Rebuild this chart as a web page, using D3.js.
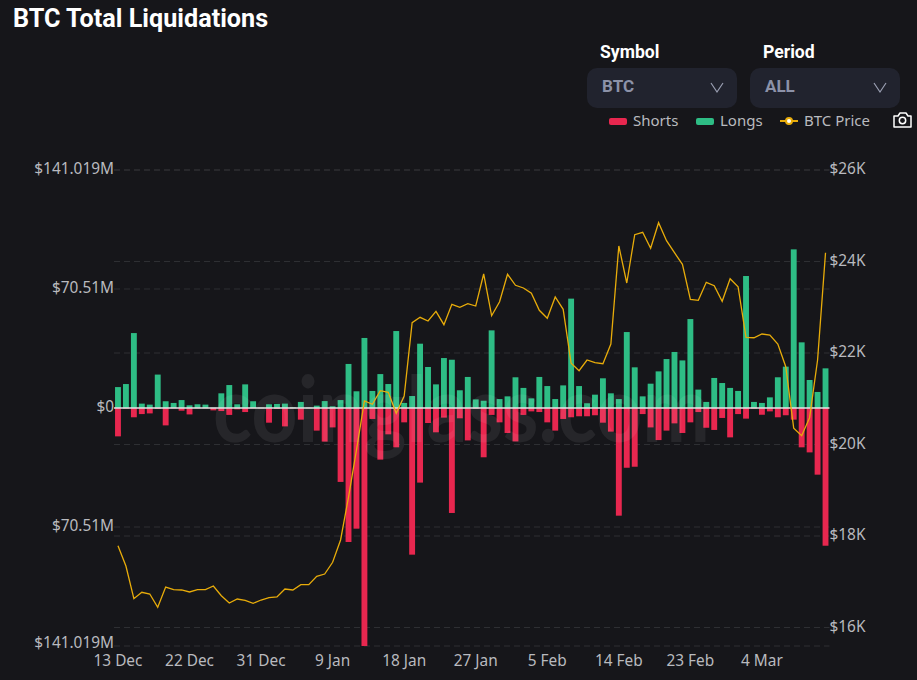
<!DOCTYPE html>
<html>
<head>
<meta charset="utf-8">
<title>BTC Total Liquidations</title>
<script src="https://cdnjs.cloudflare.com/ajax/libs/d3/7.8.5/d3.min.js"></script>
<style>
  html, body { margin: 0; padding: 0; background: #16161a; }
  svg { display: block; font-family: Roboto, sans-serif; }
  .domain { display: none; }
  .tick line { display: none; }
  .tick text { fill: #b9babf; font-size: 15.4px; font-family: "Noto Sans", sans-serif; }
</style>
</head>
<body>
<svg id="chart" width="917" height="680"></svg>
<script>
var dates = ["13 Dec","14 Dec","15 Dec","16 Dec","17 Dec","18 Dec","19 Dec","20 Dec","21 Dec","22 Dec",
  "23 Dec","24 Dec","25 Dec","26 Dec","27 Dec","28 Dec","29 Dec","30 Dec","31 Dec","1 Jan",
  "2 Jan","3 Jan","4 Jan","5 Jan","6 Jan","7 Jan","8 Jan","9 Jan","10 Jan","11 Jan",
  "12 Jan","13 Jan","14 Jan","15 Jan","16 Jan","17 Jan","18 Jan","19 Jan","20 Jan","21 Jan",
  "22 Jan","23 Jan","24 Jan","25 Jan","26 Jan","27 Jan","28 Jan","29 Jan","30 Jan","31 Jan",
  "1 Feb","2 Feb","3 Feb","4 Feb","5 Feb","6 Feb","7 Feb","8 Feb","9 Feb","10 Feb",
  "11 Feb","12 Feb","13 Feb","14 Feb","15 Feb","16 Feb","17 Feb","18 Feb","19 Feb","20 Feb",
  "21 Feb","22 Feb","23 Feb","24 Feb","25 Feb","26 Feb","27 Feb","28 Feb","1 Mar","2 Mar",
  "3 Mar","4 Mar","5 Mar","6 Mar","7 Mar","8 Mar","9 Mar","10 Mar","11 Mar","12 Mar"];

// millions of USD
var longs = [12.4,14.2,44.4,2.6,2.0,19.8,4.0,3.0,4.7,1.6,
  2.2,2.0,0.2,8.7,13.6,2.2,14.0,4.0,0.2,2.2,
  2.4,2.6,0.4,3.6,0.2,1.4,4.1,1.0,4.7,26.1,
  9.9,41.5,10.1,20.1,14.2,45.6,3.0,7.1,38.1,24.3,
  14.0,29.6,28.6,10.5,18.4,5.1,4.3,46.0,5.3,6.9,
  18.2,11.9,5.7,18.4,13.0,5.3,13.4,64.8,13.0,2.8,
  7.9,17.6,8.7,5.3,45.0,24.1,6.9,14.4,21.7,29.0,
  33.2,28.2,52.7,10.9,3.6,17.8,14.8,11.9,10.1,78.2,
  3.6,3.0,6.3,18.2,24.5,94.0,38.9,16.6,9.5,23.5];

var shorts = [16.8,0.4,5.5,3.6,3.2,0.6,10.3,0.2,1.6,3.8,
  0.2,0.2,1.4,1.8,4.1,0.8,2.4,0.2,0.2,8.7,
  0.6,10.9,0.2,6.9,0.2,13.4,19.9,11.5,43.8,79.4,
  71.5,141.019,6.5,30.6,15.6,23.3,8.5,86.9,44.2,8.9,
  14.4,5.7,62.2,6.1,19.2,0.4,29.2,4.1,8.5,14.8,
  19.8,4.1,2.0,2.4,8.5,13.4,6.5,5.5,4.9,4.9,
  4.3,8.7,14.0,63.8,35.4,34.8,3.6,11.5,19.0,13.4,
  9.1,14.8,8.5,2.4,11.7,13.0,5.9,17.4,3.6,6.3,
  0.4,4.0,2.0,5.5,4.3,6.9,23.3,26.3,39.5,81.6];

var btcPrice = [17788,17344,16630,16769,16732,16441,16885,16826,16820,16776,
  16826,16826,16907,16695,16535,16623,16594,16529,16601,16651,
  16667,16841,16820,16935,16935,17119,17169,17425,17913,18852,
  19880,20951,20879,21176,21141,20682,21060,22662,22780,22699,
  22911,22619,23064,22999,23078,23027,23727,22815,23121,23720,
  23480,23421,23305,22933,22758,23224,22955,21775,21613,21847,
  21788,21766,22197,24339,23530,24586,24638,24289,24848,24455,
  24192,23939,23174,23152,23545,23471,23130,23624,23449,22343,
  22334,22415,22393,22197,21701,20354,20192,20586,21847,24192];

var xTickLabels = ["13 Dec","22 Dec","31 Dec","9 Jan","18 Jan","27 Jan","5 Feb","14 Feb","23 Feb","4 Mar"];
var amountTicks = [-141.019,-70.51,0,70.51,141.019];
var priceTicks = [16000,18000,20000,22000,24000,26000];

var colors = { shorts: "#e8274f", longs: "#2ebd85", price: "#e8ac0a", grid: "#2e2f33" };

var svg = d3.select("#chart");

var x = d3.scaleBand().domain(dates).range([114, 829.5]).paddingInner(0.26).paddingOuter(0.13);
var yAmount = d3.scaleLinear().domain([-141.019, 141.019]).range([646, 170]);
var yPrice = d3.scaleLinear().domain([16000, 26000]).range([627.5, 170]);

// grid lines, both axes have their own
function gridLines(values, scale) {
  svg.append("g").selectAll("line").data(values).enter().append("line")
    .attr("x1", 114).attr("x2", 829.5)
    .attr("y1", function (d) { return scale(d); })
    .attr("y2", function (d) { return scale(d); })
    .attr("stroke", colors.grid)
    .attr("stroke-dasharray", "6 4");
}
gridLines(amountTicks.filter(function (d) { return d !== 0; }), yAmount);
gridLines(priceTicks, yPrice);

svg.append("g").selectAll("rect").data(longs).enter().append("rect")
  .attr("x", function (d, i) { return x(dates[i]); })
  .attr("width", x.bandwidth())
  .attr("y", function (d) { return yAmount(d); })
  .attr("height", function (d) { return yAmount(0) - yAmount(d); })
  .attr("fill", colors.longs);

svg.append("g").selectAll("rect").data(shorts).enter().append("rect")
  .attr("x", function (d, i) { return x(dates[i]); })
  .attr("width", x.bandwidth())
  .attr("y", yAmount(0))
  .attr("height", function (d) { return yAmount(0) - yAmount(d); })
  .attr("fill", colors.shorts);

svg.append("line")
  .attr("x1", 114).attr("x2", 829.5)
  .attr("y1", yAmount(0)).attr("y2", yAmount(0))
  .attr("stroke", "#e4e4e6").attr("stroke-width", 1.5);

var priceLine = d3.line()
  .x(function (d, i) { return x(dates[i]) + x.bandwidth() / 2; })
  .y(function (d) { return yPrice(d); });

svg.append("path").datum(btcPrice)
  .attr("d", priceLine)
  .attr("fill", "none")
  .attr("stroke", colors.price)
  .attr("stroke-width", 1.3);

// watermark sits over the marks
svg.append("text")
  .attr("x", 213).attr("y", 442)
  .attr("font-family", "Lato, sans-serif")
  .attr("font-weight", 700)
  .attr("font-size", 92)
  .attr("textLength", 497)
  .attr("lengthAdjust", "spacingAndGlyphs")
  .attr("fill", "#ffffff")
  .attr("fill-opacity", 0.07)
  .text("coinglass.com");

// axes
var labelFormat = d3.scaleOrdinal()
  .domain(amountTicks)
  .range(["$141.019M","$70.51M","$0","$70.51M","$141.019M"]);

var leftAxis = svg.append("g").attr("transform", "translate(114,0)")
  .call(d3.axisLeft(yAmount).tickValues(amountTicks).tickSize(0).tickPadding(0).tickFormat(labelFormat));
leftAxis.selectAll("text").attr("y", -1);
// the lowest label is pulled up in the original
leftAxis.selectAll("text").filter(function (d) { return d === -141.019; }).attr("y", -3);

var rightAxis = svg.append("g").attr("transform", "translate(829.5,0)")
  .call(d3.axisRight(yPrice).tickValues(priceTicks).tickSize(0).tickPadding(0)
    .tickFormat(function (d) { return "$" + d / 1000 + "K"; }));
rightAxis.selectAll("text").attr("y", -1);

svg.append("g").attr("transform", "translate(0,655)")
  .call(d3.axisBottom(x).tickValues(xTickLabels).tickSize(0).tickPadding(0));

// title and controls
svg.append("text").attr("x", 13).attr("y", 27)
  .attr("font-size", 25.2).attr("font-weight", 700).attr("fill", "#ffffff")
  .text("BTC Total Liquidations");

var selects = [
  { label: "Symbol", value: "BTC", x: 587 },
  { label: "Period", value: "ALL", x: 750 }
];

selects.forEach(function (s) {
  svg.append("text").attr("x", s.x + 13).attr("y", 58)
    .attr("font-size", 17.6).attr("font-weight", 700).attr("fill", "#ffffff").text(s.label);
  svg.append("rect").attr("x", s.x).attr("y", 68).attr("width", 150).attr("height", 40)
    .attr("rx", 10).attr("fill", "#21232e");
  svg.append("text").attr("x", s.x + 15).attr("y", 92)
    .attr("font-size", 17).attr("font-weight", 700).attr("fill", "#8c92a8").text(s.value);
  svg.append("path")
    .attr("d", "M" + (s.x + 124) + ",83 l6,9 l6,-9")
    .attr("fill", "none").attr("stroke", "#9a9fb2").attr("stroke-width", 1.2);
});

// legend
var legend = [
  { name: "Shorts", x: 609, textX: 633, color: colors.shorts },
  { name: "Longs", x: 696, textX: 720, color: colors.longs },
  { name: "BTC Price", x: 780, textX: 804, color: colors.price, line: true }
];

legend.forEach(function (l) {
  if (l.line) {
    svg.append("line").attr("x1", l.x).attr("x2", l.x + 18).attr("y1", 121).attr("y2", 121)
      .attr("stroke", l.color).attr("stroke-width", 2);
    svg.append("circle").attr("cx", l.x + 9).attr("cy", 121).attr("r", 3)
      .attr("fill", "#ffffff").attr("stroke", l.color).attr("stroke-width", 2);
  } else {
    svg.append("rect").attr("x", l.x).attr("y", 118).attr("width", 18).attr("height", 7)
      .attr("rx", 2).attr("fill", l.color);
  }
  svg.append("text").attr("x", l.textX).attr("y", 126)
    .attr("font-size", 15).attr("font-family", "Noto Sans, sans-serif")
    .attr("fill", "#b9babf").text(l.name);
});

// camera icon
var camera = svg.append("g").attr("fill", "none").attr("stroke", "#ffffff").attr("stroke-width", 1.5);
camera.append("path").attr("d", "M894,116 h4 l2,-3 h6 l2,3 h3 v11 h-17 z").attr("stroke-linejoin", "round");
camera.append("circle").attr("cx", 902.5).attr("cy", 120.5).attr("r", 3.2);
</script>
</body>
</html>
